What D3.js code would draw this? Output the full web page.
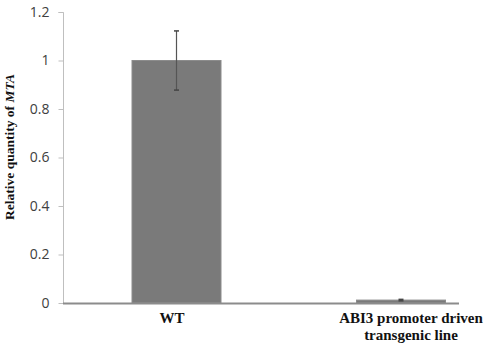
<!DOCTYPE html>
<html><head><meta charset="utf-8">
<script src="https://cdn.jsdelivr.net/npm/d3@7"></script>
<style>body{margin:0;background:#fff}svg{display:block}</style>
</head><body>
<svg id="c" width="490" height="349"></svg>
<script>
const categories = ["WT", "ABI3 promoter driven transgenic line"];
const labelLines = [["WT"], ["ABI3 promoter driven", "transgenic line"]];
const values = [1.0, 0.012];
const errors = [0.122, 0.003];
const yTicks = [0, 0.2, 0.4, 0.6, 0.8, 1, 1.2];

const svg = d3.select("#c");
const y = d3.scaleLinear().domain([0, 1.2]).range([303, 12]);
const xBar = d3.scalePoint().domain(categories).range([176.5, 401]);
const xLab = d3.scalePoint().domain(categories).range([172, 411]);
const barW = 89;

// y axis
const ya = svg.append("g").attr("transform", "translate(63.5,0)")
  .call(d3.axisLeft(y).tickValues(yTicks).tickSize(5).tickPadding(9)
    .tickFormat(d => d3.format("")(d)));
ya.select(".domain").attr("stroke", "#bfbfbf").attr("d", "M-5,12.5H0V303");
ya.selectAll(".tick line").attr("stroke", "#bfbfbf");
ya.selectAll(".tick text").attr("fill", "#404040")
  .style("font-family", "'Open Sans', 'Liberation Sans', sans-serif").style("font-size", "14px");

// bars
svg.selectAll("rect.bar").data(categories).join("rect").attr("class", "bar")
  .attr("x", d => xBar(d) - barW / 2)
  .attr("width", barW)
  .attr("y", (d, i) => y(values[i]))
  .attr("height", (d, i) => y(0) - y(values[i]))
  .attr("fill", "#7a7a7a").attr("stroke", "#8c8c8c").attr("stroke-width", 1);

// x axis line
svg.append("line").attr("x1", 63).attr("x2", 459).attr("y1", y(0) + 0.5).attr("y2", y(0) + 0.5)
  .attr("stroke", "#8c8c8c").attr("stroke-width", 2);

// error bars
const eb = svg.selectAll("g.err").data(categories).join("g").attr("class", "err");
eb.append("line")
  .attr("x1", d => xBar(d)).attr("x2", d => xBar(d))
  .attr("y1", (d, i) => y(values[i] + errors[i]))
  .attr("y2", (d, i) => y(values[i] - errors[i]))
  .attr("stroke", "#555").attr("stroke-width", 1.2);
eb.append("line")
  .attr("x1", d => xBar(d) - 2.5).attr("x2", d => xBar(d) + 2.5)
  .attr("y1", (d, i) => y(values[i] + errors[i])).attr("y2", (d, i) => y(values[i] + errors[i]))
  .attr("stroke", "#444").attr("stroke-width", 1.5);
eb.append("line")
  .attr("x1", d => xBar(d) - 2.5).attr("x2", d => xBar(d) + 2.5)
  .attr("y1", (d, i) => y(values[i] - errors[i])).attr("y2", (d, i) => y(values[i] - errors[i]))
  .attr("stroke", "#444").attr("stroke-width", 1.5);

// x labels
const xl = svg.selectAll("text.xl").data(categories).join("text").attr("class", "xl")
  .attr("x", d => xLab(d)).attr("y", 323)
  .attr("text-anchor", "middle")
  .style("font-family", "'Liberation Serif', 'Times New Roman', serif")
  .style("font-weight", "bold").style("font-size", "15px").attr("fill", "#111");
xl.each(function(d, i) {
  const t = d3.select(this);
  labelLines[i].forEach((ln, j) => {
    t.append("tspan").attr("x", xLab(d)).attr("dy", j === 0 ? 0 : 17).text(ln);
  });
});

// y title
const yt = svg.append("text")
  .attr("transform", "translate(14,147) rotate(-90)")
  .attr("text-anchor", "middle")
  .style("font-family", "'Liberation Serif', 'Times New Roman', serif")
  .style("font-weight", "bold").style("font-size", "13.5px").attr("fill", "#111");
yt.append("tspan").text("Relative quantity of ");
yt.append("tspan").style("font-style", "italic").text("MTA");
</script>
</body></html>
